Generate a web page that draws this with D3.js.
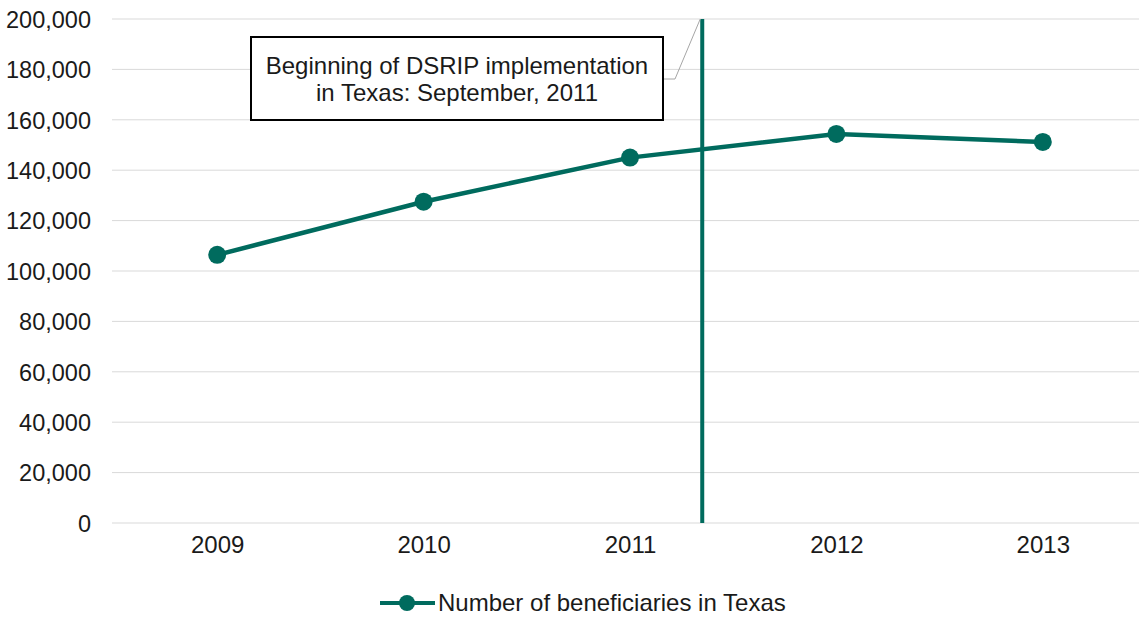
<!DOCTYPE html>
<html>
<head>
<meta charset="utf-8">
<script src="https://cdn.jsdelivr.net/npm/d3@7"></script>
<style>
  html, body { margin: 0; padding: 0; background: #fff; }
  svg { display: block; font-family: "Liberation Sans", Arial, sans-serif; }
</style>
</head>
<body>
<svg id="chart" width="1139" height="619"></svg>
<script>
// ---- Data ----
const years = [2009, 2010, 2011, 2012, 2013];
const beneficiaries = [106400, 127500, 145000, 154400, 151200];
const yTicks = [0, 20000, 40000, 60000, 80000, 100000, 120000, 140000, 160000, 180000, 200000];
const seriesName = "Number of beneficiaries in Texas";
const markerPosition = 2011.35; // DSRIP start line position on the year axis
const annotationLines = ["Beginning of DSRIP implementation", "in Texas: September, 2011"];

// ---- Layout ----
const color = "#006B5E";
const svg = d3.select("#chart");

const x = d3.scaleLinear().domain([2009, 2013]).range([217.2, 1042.8]);
const y = d3.scaleLinear().domain([0, 200000]).range([523, 19]);
const gridLeft = 112, gridRight = 1139;

// gridlines
svg.append("g").selectAll("line").data(yTicks).join("line")
  .attr("x1", gridLeft).attr("x2", gridRight)
  .attr("y1", d => y(d)).attr("y2", d => y(d))
  .attr("stroke", "#d9d9d9").attr("stroke-width", 1);

// y axis labels
const yAxis = d3.axisLeft(y).tickValues(yTicks).tickFormat(d3.format(",")).tickSize(0).tickPadding(0);
const yg = svg.append("g").attr("transform", "translate(91,0)").call(yAxis);
yg.select(".domain").remove();
yg.selectAll("text").attr("font-size", 23.5).attr("fill", "#1a1a1a")
  .attr("font-family", "Liberation Sans, Arial, sans-serif").attr("dy", "0.35em");

// x axis labels
const xAxis = d3.axisBottom(x).tickValues(years).tickFormat(d3.format("d")).tickSize(0).tickPadding(0);
const xg = svg.append("g").attr("transform", "translate(0,536)").call(xAxis);
xg.select(".domain").remove();
xg.selectAll("text").attr("font-size", 24).attr("fill", "#1a1a1a")
  .attr("font-family", "Liberation Sans, Arial, sans-serif").attr("dy", "0.72em");

// series line
const pts = years.map((yr, i) => [yr, beneficiaries[i]]);
svg.append("path").datum(pts)
  .attr("fill", "none").attr("stroke", color).attr("stroke-width", 4.5)
  .attr("d", d3.line().x(d => x(d[0])).y(d => y(d[1])));

svg.append("g").selectAll("circle").data(pts).join("circle")
  .attr("cx", d => x(d[0])).attr("cy", d => y(d[1])).attr("r", 9).attr("fill", color);

// vertical DSRIP line
svg.append("line")
  .attr("x1", x(markerPosition)).attr("x2", x(markerPosition))
  .attr("y1", y(200000)).attr("y2", y(0))
  .attr("stroke", color).attr("stroke-width", 4);

// annotation leader
const bx = 251, by = 37, bw = 412, bh = 83;
svg.append("polyline")
  .attr("points", [[bx + bw, 79], [675, 79], [x(markerPosition) - 2, y(200000)]].map(p => p.join(",")).join(" "))
  .attr("fill", "none").attr("stroke", "#a6a6a6").attr("stroke-width", 1);

// annotation box
svg.append("rect").attr("x", bx).attr("y", by).attr("width", bw).attr("height", bh)
  .attr("fill", "#fff").attr("stroke", "#000").attr("stroke-width", 2);
svg.append("g").selectAll("text").data(annotationLines).join("text")
  .attr("x", bx + bw / 2).attr("y", (d, i) => 74 + i * 27)
  .attr("text-anchor", "middle").attr("font-size", 24).attr("fill", "#1a1a1a")
  .text(d => d);

// legend
const lg = svg.append("g");
lg.append("line").attr("x1", 380).attr("x2", 435).attr("y1", 603).attr("y2", 603)
  .attr("stroke", color).attr("stroke-width", 4);
lg.append("circle").attr("cx", 407).attr("cy", 603).attr("r", 8).attr("fill", color);
lg.append("text").attr("x", 438).attr("y", 611).attr("font-size", 24).attr("fill", "#1a1a1a")
  .text(seriesName);
</script>
</body>
</html>
